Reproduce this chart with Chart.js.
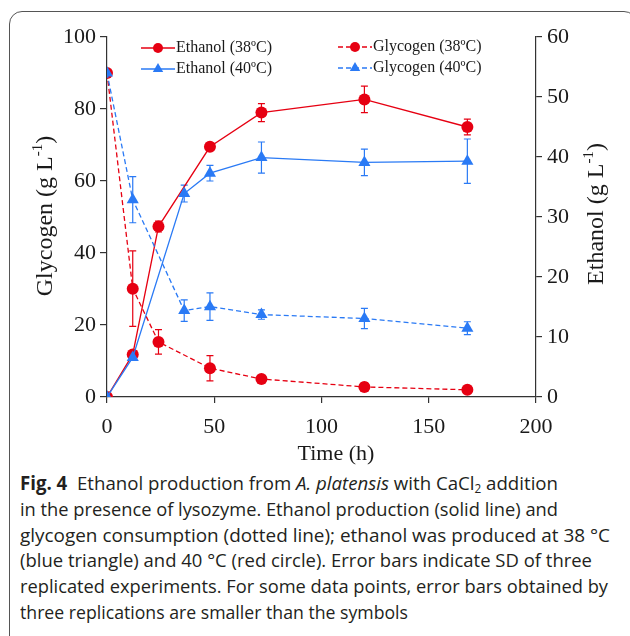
<!DOCTYPE html>
<html>
<head>
<meta charset="utf-8">
<script src="https://cdn.jsdelivr.net/npm/chart.js@4.4.1/dist/chart.umd.min.js"></script>
<style>
  html, body { margin: 0; padding: 0; background: #fff; }
  #page { position: relative; width: 630px; height: 636px; overflow: hidden; }
  #frame {
    position: absolute; left: 9px; top: 11px; width: 628px; height: 700px;
    box-sizing: border-box; border: 1.6px solid #555; border-radius: 13px;
  }
  #chartBox { position: absolute; left: 0; top: 0; width: 630px; height: 470px; }
  #caption {
    position: absolute; left: 20px; top: 471px;
    font-family: "Liberation Sans Narrow", "Open Sans", sans-serif;
    font-size: 19px; line-height: 25.8px; color: #231f20;
  }
  #caption span.line { display: inline-block; white-space: nowrap; transform-origin: 0 0; }
  #caption sub { font-size: 12px; vertical-align: -3px; line-height: 0; }
</style>
</head>
<body>
<div id="page">
  <div id="frame"></div>
  <div id="chartBox"><canvas id="myChart"></canvas></div>
  <div id="caption">
    <div><span class="line"><b>Fig. 4</b>&nbsp; Ethanol production from <i>A. platensis</i> with CaCl<sub>2</sub> addition</span></div>
    <div><span class="line">in the presence of lysozyme. Ethanol production (solid line) and</span></div>
    <div><span class="line">glycogen consumption (dotted line); ethanol was produced at 38 °C</span></div>
    <div><span class="line">(blue triangle) and 40 °C (red circle). Error bars indicate SD of three</span></div>
    <div><span class="line">replicated experiments. For some data points, error bars obtained by</span></div>
    <div><span class="line">three replications are smaller than the symbols</span></div>
  </div>
</div>
<script>
"use strict";

// sampling times (h)
const times38 = [0, 12, 24, 48, 72, 120, 168];
const times40 = [0, 12, 36, 48, 72, 120, 168];

// ethanol (g/L, right axis)
const ethanol38 = [0, 7.1, 28.4, 41.7, 47.4, 49.6, 45.0];
const ethanol38Err = [0, 0.5, 0.9, 0.6, 1.5, 2.2, 1.3];
const ethanol40 = [0, 6.6, 33.9, 37.3, 39.9, 39.1, 39.3];
const ethanol40Err = [0, 0.3, 1.4, 1.3, 2.6, 2.2, 3.7];

// glycogen (g/L, left axis)
const glycogen38 = [90, 30.1, 15.3, 8.0, 5.0, 2.8, 2.0];
const glycogen38Err = [0, 10.5, 3.4, 3.5, 0.5, 1.2, 0.4];
const glycogen40 = [90, 54.8, 24.0, 25.1, 22.9, 21.8, 19.1];
const glycogen40Err = [0, 6.4, 3.0, 3.8, 1.3, 2.8, 1.8];

const xTicks = [0, 50, 100, 150, 200];

const red = `#e60012`;
const blue = `#2a7af5`;
const serif = `"Liberation Serif", "Times New Roman", serif`;

function toPoints(xs, ys) {
  return xs.map((x, i) => ({ x: x, y: ys[i] }));
}

function makeSet(label, xs, ys, errs, color, style, axis, dashed, order) {
  return {
    label: label,
    data: toPoints(xs, ys),
    errors: errs,
    yAxisID: axis,
    showLine: true,
    borderColor: color,
    backgroundColor: color,
    pointBackgroundColor: color,
    pointBorderColor: color,
    pointBorderWidth: 0,
    pointStyle: style,
    pointRadius: style === `triangle` ? 7 : 6,
    borderWidth: 1.3,
    borderDash: dashed ? [5, 3] : [],
    tension: 0,
    order: order
  };
}

// error bars under the markers
const errorBars = {
  id: `errorBars`,
  beforeDatasetsDraw(chart) {
    const ctx = chart.ctx;
    const xs = chart.scales.x;
    chart.data.datasets.forEach((ds) => {
      const ys = chart.scales[ds.yAxisID];
      ctx.save();
      ctx.setLineDash([]);
      ctx.strokeStyle = ds.borderColor;
      ctx.lineWidth = 1.2;
      ds.data.forEach((p, j) => {
        const e = ds.errors[j];
        if (!e) return;
        const px = xs.getPixelForValue(p.x);
        const top = ys.getPixelForValue(p.y + e);
        const bot = ys.getPixelForValue(p.y - e);
        ctx.beginPath();
        ctx.moveTo(px, top);
        ctx.lineTo(px, bot);
        ctx.moveTo(px - 3.5, top);
        ctx.lineTo(px + 3.5, top);
        ctx.moveTo(px - 3.5, bot);
        ctx.lineTo(px + 3.5, bot);
        ctx.stroke();
      });
      ctx.restore();
    });
  }
};

// rotated axis titles with superscript
function drawTitle(ctx, cx, cy, parts) {
  ctx.save();
  ctx.translate(cx, cy);
  ctx.rotate(-Math.PI / 2);
  ctx.fillStyle = `#1a1a1a`;
  ctx.textBaseline = `middle`;
  let total = 0;
  parts.forEach((p) => {
    ctx.font = `${p.size}px ${serif}`;
    p.w = ctx.measureText(p.text).width;
    total += p.w;
  });
  let x = -total / 2;
  parts.forEach((p) => {
    ctx.font = `${p.size}px ${serif}`;
    ctx.fillText(p.text, x, p.dy || 0);
    x += p.w;
  });
  ctx.restore();
}

const titles = {
  id: `titles`,
  afterDraw(chart) {
    const ctx = chart.ctx;
    drawTitle(ctx, 46, 216, [
      { text: `Glycogen (g L`, size: 24 },
      { text: `-1`, size: 15, dy: -8 },
      { text: `)`, size: 24 }
    ]);
    drawTitle(ctx, 597, 214, [
      { text: `Ethanol (g L`, size: 24 },
      { text: `-1`, size: 15, dy: -8 },
      { text: `)`, size: 24 }
    ]);
    ctx.save();
    ctx.font = `22px ${serif}`;
    ctx.fillStyle = `#1a1a1a`;
    ctx.textAlign = `center`;
    ctx.textBaseline = `middle`;
    ctx.fillText(`Time (h)`, 336, 454);
    ctx.restore();
  }
};

// 2 x 2 legend in the top of the plot
const legendBox = {
  id: `legendBox`,
  afterDraw(chart) {
    const ctx = chart.ctx;
    const spots = [
      { i: 0, x: 141, y: 48 },
      { i: 1, x: 141, y: 69 },
      { i: 2, x: 338, y: 47 },
      { i: 3, x: 338, y: 68 }
    ];
    spots.forEach((s) => {
      const ds = chart.data.datasets[s.i];
      ctx.save();
      ctx.strokeStyle = ds.borderColor;
      ctx.lineWidth = 1.3;
      ctx.setLineDash(ds.borderDash);
      ctx.beginPath();
      ctx.moveTo(s.x, s.y);
      ctx.lineTo(s.x + 34, s.y);
      ctx.stroke();
      ctx.setLineDash([]);
      ctx.fillStyle = ds.pointBackgroundColor;
      ctx.strokeStyle = ds.pointBorderColor;
      Chart.helpers.drawPoint(ctx, {
        pointStyle: ds.pointStyle,
        radius: ds.pointStyle === `triangle` ? 6 : 5,
        rotation: 0,
        borderWidth: 0
      }, s.x + 17, s.y);
      ctx.fillStyle = `#1a1a1a`;
      ctx.font = `16px ${serif}`;
      ctx.textBaseline = `middle`;
      ctx.fillText(ds.label, s.x + 35, s.y);
      ctx.restore();
    });
  }
};

const axisColor = `#333`;
const tickFont = { family: serif, size: 22 };

const chartCanvas = document.getElementById(`myChart`).getContext(`2d`);
const chart = new Chart(chartCanvas, {
  type: `scatter`,
  data: {
    datasets: [
      makeSet(`Ethanol (38ºC)`, times38, ethanol38, ethanol38Err, red, `circle`, `y1`, false, 4),
      makeSet(`Ethanol (40ºC)`, times40, ethanol40, ethanol40Err, blue, `triangle`, `y1`, false, 2),
      makeSet(`Glycogen (38ºC)`, times38, glycogen38, glycogen38Err, red, `circle`, `y`, true, 3),
      makeSet(`Glycogen (40ºC)`, times40, glycogen40, glycogen40Err, blue, `triangle`, `y`, true, 1)
    ]
  },
  options: {
    responsive: true,
    maintainAspectRatio: false,
    animation: false,
    events: [],
    layout: { padding: { left: 0, right: 0, top: 37, bottom: 0 } },
    plugins: {
      legend: { display: false },
      tooltip: { enabled: false }
    },
    scales: {
      x: {
        type: `linear`,
        min: 0,
        max: 200,
        afterFit: (scale) => { scale.height = 73; },
        afterBuildTicks: (scale) => { scale.ticks = xTicks.map((v) => ({ value: v })); },
        ticks: { font: tickFont, color: `#1a1a1a`, padding: 11, maxRotation: 0 },
        grid: { display: true, drawOnChartArea: false, tickLength: 6, color: axisColor, lineWidth: 1.2 },
        border: { display: true, color: axisColor, width: 1.2 }
      },
      y: {
        position: `left`,
        min: 0,
        max: 100,
        afterFit: (scale) => { scale.width = 107; },
        ticks: { stepSize: 20, font: tickFont, color: `#1a1a1a`, padding: 4 },
        grid: { display: true, drawOnChartArea: false, tickLength: 7, color: axisColor, lineWidth: 1.2 },
        border: { display: true, color: axisColor, width: 1.2 }
      },
      y1: {
        position: `right`,
        min: 0,
        max: 60,
        afterFit: (scale) => { scale.width = 94; },
        ticks: { stepSize: 10, font: tickFont, color: `#1a1a1a`, padding: 5 },
        grid: { display: true, drawOnChartArea: false, tickLength: 6, color: axisColor, lineWidth: 1.2 },
        border: { display: true, color: axisColor, width: 1.2 }
      }
    }
  },
  plugins: [errorBars, titles, legendBox]
});

// squeeze caption lines to the widths of the printed figure
const lineWidths = [538, 538, 590, 572, 588, 388];
document.querySelectorAll(`#caption span.line`).forEach((el, i) => {
  const w = el.getBoundingClientRect().width;
  el.style.transform = `scaleX(${lineWidths[i] / w})`;
});
</script>
</body>
</html>
